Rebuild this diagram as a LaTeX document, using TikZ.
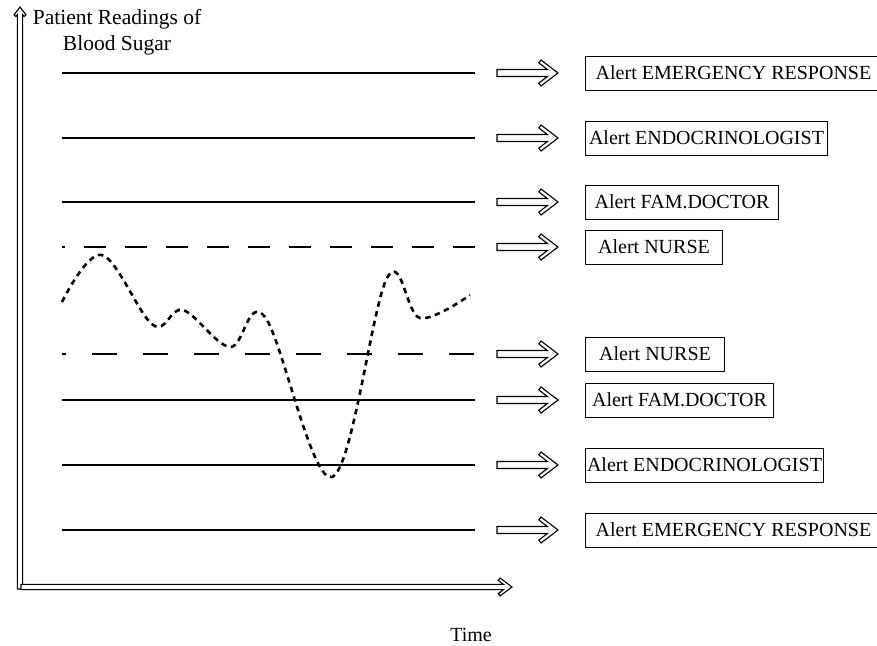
\documentclass[tikz,border=0pt]{standalone}
\usepackage{fontspec}
\setmainfont{Liberation Serif}
\tikzset{
  outline/.style={line width=1.1pt, line join=miter, fill=white},
  pics/alertarrow/.style={code={
    \draw[outline] (-61,-3.5) -- (-10.6,-3.5) -- (-19.2,-10.1) -- (-17,-13) -- (0,0)
      -- (-17,13) -- (-19.2,10.1) -- (-10.6,3.5) -- (-61,3.5) -- cycle;}},
  pics/timeaxis/.style={code={
    \draw[outline] (-491,-2.6) -- (-8.5,-2.6) -- (-13.8,-6.6) -- (-12,-9) -- (0,0)
      -- (-12,9) -- (-13.8,6.6) -- (-8.5,2.6) -- (-491,2.6) -- cycle;}},
  pics/sugaraxis/.style={code={
    \draw[outline] (-582,-2.6) -- (-7.6,-2.6) -- (-9.4,-4.1) -- (-8,-6) -- (0,0)
      -- (-8,6) -- (-9.4,4.1) -- (-7.6,2.6) -- (-582,2.6) -- cycle;}},
  alertbox/.style={draw, line width=1pt, minimum height=34pt, inner sep=0pt, anchor=west},
  heavy/.style={line width=2.5pt},
  light/.style={line width=1.1pt},
  upperdash/.style={line width=1.1pt, dash pattern=on 22pt off 19pt, dash phase=19pt},
  lowerdash/.style={line width=1.1pt, dash pattern=on 25pt off 26pt, dash phase=21pt},
  reading/.style={line width=2.6pt, dash pattern=on 5.5pt off 4.5pt},
}
\begin{document}
\begin{tikzpicture}[x=1pt, y=-1pt, line join=round, font=\fontsize{20}{25}\selectfont]
\useasboundingbox (0,0) rectangle (877,645);
% axes
\coordinate (Y) at (20,7);
\coordinate (X) at (512,587);
\pic[rotate=90] at (Y) {sugaraxis};
\pic at (X) {timeaxis};
\node[align=center, inner sep=0pt, font=\fontsize{21.5}{26}\selectfont] (ylabel) at (117,32) {Patient Readings of\\Blood Sugar};
\node[inner sep=0pt] (xlabel) at (471,635) {Time};
% thresholds, alert arrows and boxes
\foreach \y/\lstyle/\who/\w [count=\i] in {
    73/heavy/EMERGENCY RESPONSE/296,
    138/heavy/ENDOCRINOLOGIST/242,
    202/light/FAM.DOCTOR/193,
    247/upperdash/NURSE/137,
    354/lowerdash/NURSE/139,
    400/light/FAM.DOCTOR/188,
    465/heavy/ENDOCRINOLOGIST/238,
    530/heavy/EMERGENCY RESPONSE/296}{
  \draw[\lstyle] (62,\y) -- (475,\y);
  \coordinate (b\i) at (558,\y);
  \pic at (b\i) {alertarrow};
  \node[alertbox, minimum width=\w] (box\i) at (585,\y) {Alert \who};
}
% blood sugar readings
\draw[reading] plot[smooth, tension=0.6] coordinates {
  (62,302) (102,255) (153,325) (183,310) (230,347) (265,317)
  (332,477) (387,278) (420,318) (470,295)};
\end{tikzpicture}
\end{document}
